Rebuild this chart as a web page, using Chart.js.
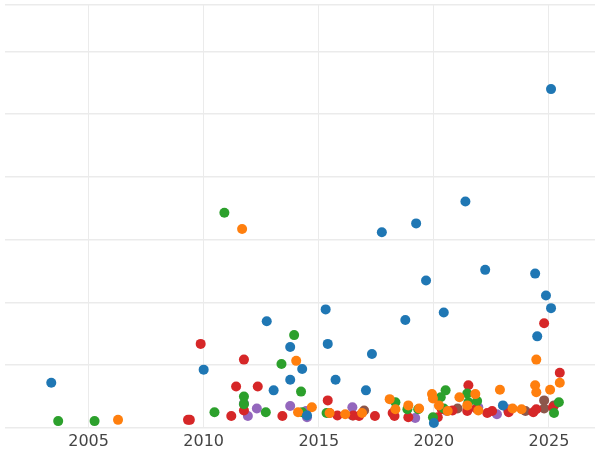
<!DOCTYPE html>
<html>
<head>
<meta charset="UTF-8" />
<script src="https://cdn.jsdelivr.net/npm/chart.js"></script>
<style>
  body { margin: 0; background: #fff; }
  .wrap { width: 600px; height: 450px; }
</style>
</head>
<body>
<div class="wrap"><canvas id="c"></canvas></div>
<script>
  const xTicks = [2005, 2010, 2015, 2020, 2025];

  const blueX = [2003.38, 2010.0, 2012.74, 2013.04, 2013.76, 2013.76, 2014.28, 2014.49, 2015.30, 2015.39, 2015.73, 2017.05, 2017.31, 2017.74, 2018.76, 2019.23, 2019.66, 2020.0, 2020.43, 2021.37, 2022.23, 2023.0, 2024.40, 2024.49, 2024.87, 2025.09, 2025.09];
  const blueY = [0.72, 0.93, 1.70, 0.60, 1.29, 0.77, 0.94, 0.20, 1.89, 1.34, 0.77, 0.60, 1.18, 3.12, 1.72, 3.26, 2.35, 0.08, 1.84, 3.61, 2.52, 0.36, 2.46, 1.46, 2.11, 1.91, 5.40];

  const orangeX = [2006.28, 2011.67, 2014.02, 2014.10, 2014.70, 2015.47, 2016.15, 2016.88, 2018.08, 2018.33, 2018.89, 2019.36, 2019.92, 2019.96, 2020.22, 2020.60, 2021.11, 2021.45, 2021.80, 2021.93, 2022.87, 2023.42, 2023.81, 2024.40, 2024.45, 2024.45, 2025.05, 2025.47];
  const orangeY = [0.13, 3.17, 1.07, 0.25, 0.33, 0.24, 0.22, 0.24, 0.46, 0.30, 0.36, 0.31, 0.54, 0.47, 0.36, 0.27, 0.49, 0.36, 0.54, 0.28, 0.61, 0.31, 0.30, 0.68, 0.57, 1.09, 0.61, 0.72];

  const greenX = [2003.68, 2005.26, 2010.47, 2010.90, 2011.75, 2011.75, 2012.70, 2013.38, 2013.93, 2014.23, 2014.28, 2015.34, 2018.33, 2018.85, 2019.32, 2019.96, 2020.30, 2020.51, 2020.43, 2021.45, 2021.50, 2021.88, 2025.22, 2025.43];
  const greenY = [0.11, 0.11, 0.25, 3.43, 0.50, 0.38, 0.25, 1.02, 1.48, 0.58, 0.25, 0.24, 0.41, 0.30, 0.30, 0.17, 0.49, 0.60, 0.31, 0.55, 0.41, 0.43, 0.24, 0.41];

  const redX = [2009.32, 2009.40, 2009.87, 2011.20, 2011.41, 2011.75, 2011.75, 2012.35, 2013.42, 2015.39, 2015.47, 2015.81, 2016.50, 2016.75, 2017.44, 2018.21, 2018.29, 2018.89, 2020.17, 2020.34, 2020.81, 2021.45, 2021.50, 2021.84, 2022.32, 2022.53, 2023.25, 2024.32, 2024.45, 2024.79, 2025.17, 2025.47];
  const redY = [0.13, 0.13, 1.34, 0.19, 0.66, 1.09, 0.28, 0.66, 0.19, 0.44, 0.24, 0.20, 0.20, 0.19, 0.19, 0.24, 0.19, 0.17, 0.17, 0.30, 0.28, 0.27, 0.68, 0.31, 0.24, 0.27, 0.25, 0.25, 0.30, 1.67, 0.33, 0.88];

  const purpleX = [2011.75, 2011.92, 2012.31, 2013.76, 2014.45, 2014.49, 2016.46, 2019.19, 2020.56, 2021.93, 2022.74, 2023.21];
  const purpleY = [0.39, 0.19, 0.31, 0.35, 0.27, 0.17, 0.33, 0.16, 0.27, 0.33, 0.22, 0.30];

  const brownX = [2016.46, 2016.97, 2021.03, 2023.98, 2024.79, 2024.79, 2025.22];
  const brownY = [0.20, 0.28, 0.31, 0.27, 0.44, 0.31, 0.36];

  function pts(xs, ys) {
    return xs.map((x, i) => ({ x: x, y: ys[i] }));
  }

  function ds(xs, ys, color) {
    return {
      data: pts(xs, ys),
      backgroundColor: color,
      borderWidth: 0,
      pointRadius: 5,
      pointHoverRadius: 5
    };
  }

  new Chart(document.getElementById("c"), {
    type: "scatter",
    data: {
      datasets: [
        ds(blueX, blueY, "#1f77b4"),
        ds(orangeX, orangeY, "#ff7f0e"),
        ds(greenX, greenY, "#2ca02c"),
        ds(redX, redY, "#d62728"),
        ds(purpleX, purpleY, "#9467bd"),
        ds(brownX, brownY, "#8c564b")
      ]
    },
    options: {
      responsive: true,
      maintainAspectRatio: false,
      animation: false,
      layout: { padding: 0 },
      plugins: { legend: { display: false }, tooltip: { enabled: false } },
      scales: {
        x: {
          type: "linear",
          min: 2001.37,
          max: 2027.0,
          afterBuildTicks: (axis) => { axis.ticks = xTicks.map(v => ({ value: v })); },
          afterFit: (axis) => { axis.height = 22; },
          ticks: {
            color: "#444",
            font: { family: "DejaVu Sans", size: 16 },
            padding: 4,
            callback: (v) => String(v)
          },
          grid: { color: "#ebebeb", lineWidth: 1, drawTicks: false },
          border: { display: false }
        },
        y: {
          min: 0,
          max: 6.74,
          afterFit: (axis) => { axis.width = 0; },
          ticks: { display: false, stepSize: 1 },
          grid: { color: "#ebebeb", lineWidth: 1.5, drawTicks: false },
          border: { display: false }
        }
      }
    }
  });
</script>
</body>
</html>
